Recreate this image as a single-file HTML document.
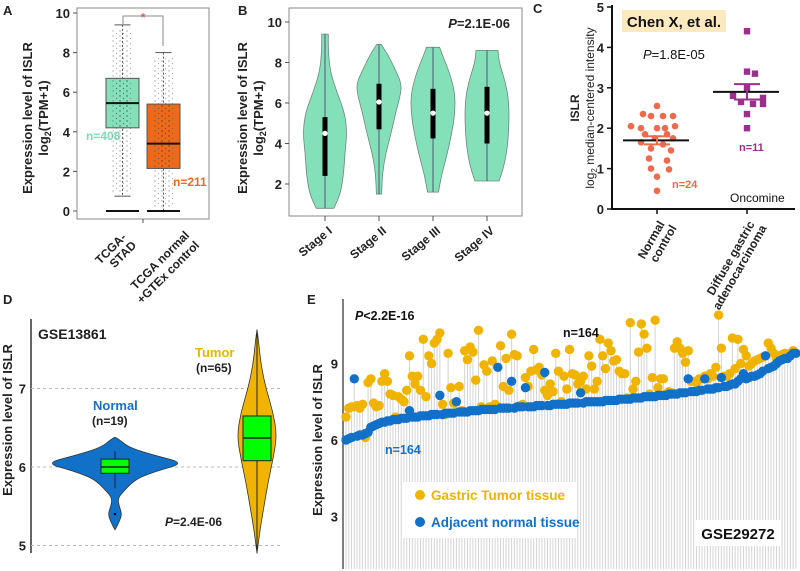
<!DOCTYPE html>
<html><head><meta charset="utf-8">
<style>
html,body{margin:0;padding:0;background:#fff;}
svg{display:block;font-family:"Liberation Sans",Arial,sans-serif;}
.t{font-weight:bold;fill:#222;}
</style></head>
<body>
<svg id="fig" width="800" height="571" viewBox="0 0 800 571">
<defs>
<pattern id="jit" width="7" height="5" patternUnits="userSpaceOnUse"><circle cx="1" cy="1" r="0.7" fill="#333"/><circle cx="4.5" cy="3.5" r="0.6" fill="#444"/></pattern>
</defs>
<text class="t" x="3" y="15" font-size="13">A</text>
<text class="t" x="238" y="15" font-size="13">B</text>
<text class="t" x="533" y="13" font-size="13">C</text>
<text class="t" x="3" y="304" font-size="13">D</text>
<text class="t" x="307" y="304" font-size="13">E</text>

<g id="pa">
<rect x="77" y="8" width="132" height="211" fill="none" stroke="#888"/>
<g class="t" font-size="13" text-anchor="middle">
<text transform="translate(32,118) rotate(-90)">Expression level of ISLR</text>
<text transform="translate(48,118) rotate(-90)">log<tspan font-size="9" dy="3">2</tspan><tspan dy="-3">(TPM+1)</tspan></text>
</g>
<text x="143" y="22" fill="#e53030" font-size="13" text-anchor="middle">*</text>
<path d="M123,24 V16 H163 V46" fill="none" stroke="#888"/>
<text x="86" y="140" font-size="12" font-weight="bold" fill="#7fdcb4">n=408</text>
<text x="173" y="186" font-size="12" font-weight="bold" fill="#ee6a1a">n=211</text>
<g class="t" font-size="12" text-anchor="end">
<text transform="translate(127,238) rotate(-45)">TCGA-</text>
<text transform="translate(137,246) rotate(-45)">STAD</text>
<text transform="translate(190,236) rotate(-45)">TCGA normal</text>
<text transform="translate(200,246) rotate(-45)">+GTEx control</text>
</g>
</g>

<g id="pb">
<rect x="289" y="8" width="233" height="208" fill="none" stroke="#888"/>
<g class="t" font-size="13" text-anchor="middle">
<text transform="translate(247,118) rotate(-90)">Expression level of ISLR</text>
<text transform="translate(263,118) rotate(-90)">log<tspan font-size="9" dy="3">2</tspan><tspan dy="-3">(TPM+1)</tspan></text>
</g>
<text x="510" y="28" font-size="13" font-weight="bold" fill="#222" text-anchor="end"><tspan font-style="italic">P</tspan>=2.1E-06</text>
</g>

<g id="pc">
<rect x="622" y="10" width="104" height="22" fill="#fde9c0"/>
<text x="674" y="27" font-size="15" font-weight="bold" fill="#111" text-anchor="middle">Chen X, et al.</text>
<text x="643" y="59" font-size="13" fill="#111"><tspan font-style="italic">P</tspan>=1.8E-05</text>
<line x1="612" y1="5" x2="612" y2="210" stroke="#111" stroke-width="2"/>
<line x1="611" y1="209" x2="795" y2="209" stroke="#111" stroke-width="2"/>
<g class="t" font-size="12" text-anchor="middle">
<text transform="translate(579,108) rotate(-90)">ISLR</text>
<text transform="translate(594,108) rotate(-90)" font-weight="normal">log<tspan font-size="8" dy="3">2</tspan><tspan dy="-3"> median-centered intensity</tspan></text>
</g>
<text x="672" y="188" font-size="11" font-weight="bold" fill="#ee6a4f">n=24</text>
<text x="739" y="151" font-size="11" font-weight="bold" fill="#9b2f8e">n=11</text>
<text x="730" y="202" font-size="12" fill="#111">Oncomine</text>
<g class="t" font-size="12" text-anchor="end">
<text transform="translate(665,224) rotate(-60)">Normal</text>
<text transform="translate(677,228) rotate(-60)">control</text>
<text transform="translate(755,224) rotate(-60)">Diffuse gastric</text>
<text transform="translate(767,228) rotate(-60)">adenocarcinoma</text>
</g>
</g>

<g id="pd">
<line x1="31" y1="319" x2="31" y2="553" stroke="#333" stroke-width="1.5"/>
<text class="t" font-size="13" text-anchor="middle" transform="translate(12,420) rotate(-90)">Expression level of ISLR</text>
<text class="t" x="38" y="339" font-size="14">GSE13861</text>
<text x="195" y="357" font-size="13" font-weight="bold" fill="#f0b400">Tumor</text>
<text x="196" y="372" font-size="12" font-weight="bold" fill="#222">(n=65)</text>
<text x="93" y="410" font-size="13" font-weight="bold" fill="#1a6fc4">Normal</text>
<text x="92" y="425" font-size="12" font-weight="bold" fill="#222">(n=19)</text>
<text x="165" y="526" font-size="12" font-weight="bold" fill="#222"><tspan font-style="italic">P</tspan>=2.4E-06</text>
</g>

<g id="pe">
<line x1="343" y1="299" x2="343" y2="569" stroke="#555" stroke-width="1.5"/>
<text class="t" font-size="13" text-anchor="middle" transform="translate(322,440) rotate(-90)">Expression level of ISLR</text>
</g>
</svg>
<script>
// ---------- Panel A data ----------
const aGroups = ["TCGA-STAD", "TCGA normal +GTEx control"];
const aQ1 = [4.2, 2.15];
const aMedian = [5.45, 3.4];
const aQ3 = [6.7, 5.4];
const aWhiskLow = [0.75, 0.0];
const aWhiskHigh = [9.4, 8.0];
const aTicks = [0, 2, 4, 6, 8, 10];
// ---------- Panel B data ----------
const bStages = ["Stage I", "Stage II", "Stage III", "Stage IV"];
const bMedian = [4.5, 6.05, 5.5, 5.5];
const bQ1 = [2.4, 4.7, 4.25, 4.0];
const bQ3 = [5.3, 6.95, 6.7, 6.8];
const bDensVals = [
  [0.8, 1.5, 2.5, 3.5, 4.5, 5.5, 6.5, 7.5, 8.5, 9.4],
  [1.5, 2.5, 3.5, 4.5, 5.5, 6.5, 7.0, 7.5, 8.3, 8.9],
  [1.6, 2.5, 3.5, 4.5, 5.5, 6.5, 7.5, 8.3, 8.75],
  [2.15, 3.0, 4.0, 5.0, 6.0, 7.0, 8.0, 8.6]
];
const bDensWidth = [
  [0.4, 0.7, 0.85, 0.9, 1.0, 0.9, 0.55, 0.25, 0.15, 0.15],
  [0.12, 0.15, 0.3, 0.55, 0.75, 1.0, 1.0, 0.8, 0.45, 0.1],
  [0.25, 0.4, 0.65, 0.85, 1.0, 1.0, 0.75, 0.45, 0.3],
  [0.55, 0.8, 0.95, 1.0, 1.0, 0.85, 0.55, 0.5]
];
const bTicks = [2, 4, 6, 8, 10];
// ---------- Panel C data ----------
const cGroups = ["Normal control", "Diffuse gastric adenocarcinoma"];
const cNormal = [2.55, 2.35, 2.3, 2.3, 2.3, 2.05, 2.0, 2.0, 2.05, 1.85, 1.85, 1.75, 1.75, 1.65, 1.6, 1.5, 1.45, 1.25, 1.2, 1.0, 0.98, 0.8, 0.45, 2.0];
const cNormalJitter = [0, -14, -6, 6, 16, -26, -16, 8, 18, -12, 10, -2, 16, -16, 6, -6, 14, -8, 10, -6, 12, 0, 0, 0];
const cDiffuse = [4.4, 3.4, 3.35, 3.0, 2.8, 2.75, 2.65, 2.6, 2.6, 2.35, 2.0];
const cDiffuseJitter = [0, 0, 8, 0, -14, 16, -6, 6, 16, 0, 0];
const cMean = [1.7, 2.9];
const cSem = [0.1, 0.19];
const cTicks = [0, 1, 2, 3, 4, 5];
// ---------- Panel D data ----------
const dGroups = ["Normal", "Tumor"];
const dDensVals = [
  [5.2, 5.3, 5.4, 5.5, 5.6, 5.7, 5.85, 5.95, 6.05, 6.15, 6.25, 6.35, 6.38],
  [4.9, 5.2, 5.5, 5.8, 6.1, 6.4, 6.7, 7.0, 7.3, 7.6, 7.75]
];
const dDensWidth = [
  [0, 0.06, 0.1, 0.06, 0.04, 0.13, 0.3, 0.6, 1.0, 0.55, 0.2, 0.06, 0],
  [0, 0.15, 0.35, 0.55, 0.8, 1.0, 0.8, 0.45, 0.2, 0.08, 0]
];
const dQ1 = [5.92, 6.08];
const dMedian = [6.0, 6.37];
const dQ3 = [6.1, 6.65];
const dWhiskLow = [5.73, 4.95];
const dWhiskHigh = [6.2, 7.7];
const dTicks = [5, 6, 7];
// ---------- Panel E data ----------
const eNormal = [6.0,6.05,6.1,8.4,6.15,6.2,6.2,6.25,6.3,6.5,
6.55,6.6,6.65,6.7,6.7,6.75,6.75,6.8,6.8,6.8,
6.85,6.85,6.85,7.15,6.9,6.9,6.9,6.95,6.95,6.95,
6.95,7.0,7.0,7.0,7.75,7.0,7.05,7.05,7.05,7.05,
7.5,7.1,7.1,7.1,7.1,7.15,7.15,7.15,7.15,7.2,
7.2,7.2,7.2,7.2,7.2,8.85,7.25,7.25,7.25,7.25,
8.3,7.25,7.3,7.3,7.3,8.05,7.3,7.3,7.3,7.35,
7.35,7.35,8.65,7.35,7.35,7.4,7.4,7.4,7.4,7.4,
7.4,7.45,7.45,7.45,7.45,7.85,7.45,7.5,7.5,7.5,
7.5,7.5,7.5,7.5,7.55,7.55,7.55,7.55,7.55,7.6,
7.6,7.6,7.6,7.6,7.65,7.65,7.65,7.65,7.7,7.7,
7.7,7.7,7.7,7.75,7.75,7.75,7.75,7.8,7.8,7.8,
7.8,7.85,7.85,7.85,8.4,7.9,7.9,7.9,7.95,7.95,
8.4,8.0,8.0,8.0,8.05,8.05,8.45,8.1,8.1,8.15,
8.2,8.2,8.3,8.4,8.6,8.4,8.45,8.5,8.5,8.55,
8.6,8.7,9.3,8.8,8.85,8.9,9.0,9.1,9.15,9.2,
9.2,9.3,9.4,9.4];
const eTumor = [6.9,7.25,7.3,7.3,7.35,7.25,7.4,6.1,8.25,8.4,
7.45,7.3,7.35,8.3,8.6,8.3,7.8,7.75,6.9,7.7,
7.6,7.5,7.95,9.3,8.5,8.2,8.5,7.95,9.95,7.7,
9.3,9.0,9.8,9.95,10.2,7.4,7.0,9.4,8.05,7.45,
7.1,8.1,7.15,9.5,9.15,9.65,9.45,8.35,10.3,7.3,
8.95,8.7,7.3,9.1,7.4,7.3,9.7,8.1,9.2,7.95,
10.15,9.35,9.3,7.35,7.4,8.45,8.1,8.7,9.55,8.75,
8.85,8.55,7.95,7.75,8.2,7.9,9.4,8.7,7.5,8.5,
8.0,9.55,8.6,8.55,8.2,8.3,8.5,8.0,9.3,8.9,
8.0,8.3,9.95,9.3,8.8,9.8,9.5,9.1,9.15,8.7,
8.6,8.6,7.65,10.6,8.0,8.3,9.45,10.55,10.15,9.6,
7.8,8.45,10.7,8.05,8.4,8.4,7.8,7.9,7.85,9.6,
9.85,9.6,9.4,9.05,9.5,8.3,8.3,8.25,8.4,8.4,
8.5,8.4,8.6,8.5,8.85,10.9,9.6,8.5,8.5,8.6,
10.0,8.8,9.95,9.0,9.55,9.3,8.9,9.0,9.1,9.15,
9.2,9.25,9.3,9.8,9.6,9.4,9.2,9.3,9.35,9.4,
9.3,9.4,9.5,9.4];
const eTicks = [3, 6, 9];
const eLegend = ["Gastric Tumor tissue", "Adjacent normal tissue"];

// ---------- helpers ----------
const NS = "http://www.w3.org/2000/svg";
function mk(parent, tag, attrs) {
  const e = document.createElementNS(NS, tag);
  for (const k in attrs) e.setAttribute(k, attrs[k]);
  parent.appendChild(e);
  return e;
}
function smooth(pts) {
  let d = "";
  for (let i = 0; i < pts.length - 1; i++) {
    const mx = (pts[i][0] + pts[i + 1][0]) / 2, my = (pts[i][1] + pts[i + 1][1]) / 2;
    if (i === 0) d += " L" + pts[0][0].toFixed(1) + "," + pts[0][1].toFixed(1) + " L" + mx.toFixed(1) + "," + my.toFixed(1);
    else d += " Q" + pts[i][0].toFixed(1) + "," + pts[i][1].toFixed(1) + " " + mx.toFixed(1) + "," + my.toFixed(1);
  }
  const l = pts[pts.length - 1];
  d += " L" + l[0].toFixed(1) + "," + l[1].toFixed(1);
  return d;
}
function violinPath(cx, vals, widths, maxW, yf) {
  const r = [], l = [];
  for (let i = 0; i < vals.length; i++) {
    r.push([cx + widths[i] * maxW, yf(vals[i])]);
    l.push([cx - widths[i] * maxW, yf(vals[i])]);
  }
  l.reverse();
  return "M" + cx + "," + yf(vals[0]).toFixed(1) + smooth(r) + smooth(l) + " Z";
}
const pa = document.getElementById("pa"), pb = document.getElementById("pb"),
      pc = document.getElementById("pc"), pd = document.getElementById("pd"), pe = document.getElementById("pe");

// ---------- Panel A ----------
const ayA = v => 211 - 19.8 * v;
const axA = i => [122.5, 163.5][i];
const aFill = ["#84e0b9", "#ee6a1a"];
aTicks.forEach(t => {
  const tk = mk(pa, "line", {x1: 73, x2: 77, y1: ayA(t), y2: ayA(t), stroke: "#555"});
  
  
  const tl = mk(pa, "text", {x: 70, y: ayA(t) + 5, "text-anchor": "end", "font-size": 13, "class": "t"});
  tl.textContent = t;
  
  
});
const tkx = mk(pa, "line", {x1: 143, x2: 143, y1: 219, y2: 223, stroke: "#555"});


aGroups.forEach((g, i) => {
  const cx = axA(i);
  const wl = mk(pa, "line", {x1: cx, x2: cx, y1: ayA(aWhiskHigh[i]), y2: ayA(aWhiskLow[i]), stroke: "#555", "stroke-dasharray": "2,2"});
  
  
  [aWhiskHigh[i], aWhiskLow[i]].forEach(v => {
    const cap = mk(pa, "line", {x1: cx - 8, x2: cx + 8, y1: ayA(v), y2: ayA(v), stroke: "#555"});
    
    
  });
  const bx = mk(pa, "rect", {x: cx - 16.5, y: ayA(aQ3[i]), width: 33, height: ayA(aQ1[i]) - ayA(aQ3[i]), fill: aFill[i], stroke: "#555"});
  
  
  const jt = mk(pa, "rect", {x: cx - 10, y: ayA(aWhiskHigh[i]) + 4, width: 20, height: ayA(aWhiskLow[i]) - ayA(aWhiskHigh[i]) - 8, fill: "url(#jit)", opacity: 0.45});
  
  
  const jt2 = mk(pa, "rect", {x: cx - 7, y: ayA(aQ3[i]), width: 14, height: ayA(aQ1[i]) - ayA(aQ3[i]), fill: "url(#jit)", opacity: 0.5});
  
  
  const md = mk(pa, "line", {x1: cx - 16.5, x2: cx + 16.5, y1: ayA(aMedian[i]), y2: ayA(aMedian[i]), stroke: "#111", "stroke-width": 2});
  
  
  const zl = mk(pa, "line", {x1: cx - 16.5, x2: cx + 16.5, y1: ayA(0), y2: ayA(0), stroke: "#111", "stroke-width": 2});
  
  
});

// ---------- Panel B ----------
const ayB = v => 22 + (10 - v) * 20.25;
const axB = i => 325 + i * 54;
bTicks.forEach(t => {
  const tk = mk(pb, "line", {x1: 285, x2: 289, y1: ayB(t), y2: ayB(t), stroke: "#555"});
  
  
  const tl = mk(pb, "text", {x: 282, y: ayB(t) + 5, "text-anchor": "end", "font-size": 13, "class": "t"});
  tl.textContent = t;
  
  
});
bStages.forEach((s, i) => {
  const cx = axB(i);
  const v = mk(pb, "path", {d: violinPath(cx, bDensVals[i], bDensWidth[i], 22, ayB), fill: "#84e0b9", stroke: "#6a8a7c", "stroke-width": 0.8, "stroke-linejoin": "round"});
  
  
  const ln = mk(pb, "line", {x1: cx, x2: cx, y1: ayB(bDensVals[i][bDensVals[i].length - 1]), y2: ayB(bDensVals[i][0]), stroke: "#557"});
  
  
  const b = mk(pb, "rect", {x: cx - 2.5, y: ayB(bQ3[i]), width: 5, height: ayB(bQ1[i]) - ayB(bQ3[i]), fill: "#000"});
  
  
  const m = mk(pb, "circle", {cx: cx, cy: ayB(bMedian[i]), r: 2.6, fill: "#fff"});
  
  
  const tk = mk(pb, "line", {x1: cx, x2: cx, y1: 216, y2: 221, stroke: "#555"});
  
  
  const tl = mk(pb, "text", {transform: "translate(" + (cx + 8) + ",232) rotate(-40)", "text-anchor": "end", "font-size": 12, "class": "t"});
  tl.textContent = s;
  
  
});

// ---------- Panel C ----------
const ayC = v => 209 - 40.4 * v;
const axC = i => [657, 747][i];
cTicks.forEach(t => {
  const tk = mk(pc, "line", {x1: 607, x2: 612, y1: ayC(t), y2: ayC(t), stroke: "#111", "stroke-width": 1.5});
  
  
  const tl = mk(pc, "text", {x: 604, y: ayC(t) + 5, "text-anchor": "end", "font-size": 13, "class": "t"});
  tl.textContent = t;
  
  
});
cGroups.forEach((g, i) => {
  const tk = mk(pc, "line", {x1: axC(i), x2: axC(i), y1: 209, y2: 214, stroke: "#111", "stroke-width": 1.5});
  
  
});
cNormal.forEach((v, i) => {
  const c = mk(pc, "circle", {cx: axC(0) + cNormalJitter[i], cy: ayC(v), r: 3.3, fill: "#ee6a4f"});
  
  
});
cDiffuse.forEach((v, i) => {
  const s = mk(pc, "rect", {x: axC(1) + cDiffuseJitter[i] - 3.2, y: ayC(v) - 3.2, width: 6.4, height: 6.4, fill: "#9b2f8e"});
  
  
});
cMean.forEach((m, i) => {
  const cx = axC(i);
  const ml = mk(pc, "line", {x1: cx - 34, x2: cx + 32, y1: ayC(m), y2: ayC(m), stroke: "#111", "stroke-width": 2});
  
  
  const col = i === 0 ? "#ee6a4f" : "#9b2f8e";
  [m + cSem[i], m - cSem[i]].forEach(v => {
    const e = mk(pc, "line", {x1: cx - 13, x2: cx + 13, y1: ayC(v), y2: ayC(v), stroke: col, "stroke-width": 2});
    
    
  });
  const ev = mk(pc, "line", {x1: cx, x2: cx, y1: ayC(m + cSem[i]), y2: ayC(m - cSem[i]), stroke: col, "stroke-width": 2});
  
  
});

// ---------- Panel D ----------
const ayD = v => 467 - 78.5 * (v - 6);
const axD = i => [115, 257][i];
dTicks.forEach(t => {
  const g = mk(pd, "line", {x1: 31, x2: 283, y1: ayD(t), y2: ayD(t), stroke: "#bbb", "stroke-dasharray": "3,3"});
  
  
  const tl = mk(pd, "text", {x: 26, y: ayD(t) + 5, "text-anchor": "end", "font-size": 13, "class": "t"});
  tl.textContent = t;
  
  
});
const dFill = ["#1170c8", "#f0b400"];
const dMaxW = [70, 20];
dGroups.forEach((g, i) => {
  const cx = axD(i);
  const v = mk(pd, "path", {d: violinPath(cx, dDensVals[i], dDensWidth[i], dMaxW[i], ayD), fill: dFill[i], stroke: "#333", "stroke-width": 0.8, "stroke-linejoin": "round"});
  
  
  const wl = mk(pd, "line", {x1: cx, x2: cx, y1: ayD(dWhiskHigh[i]), y2: ayD(dWhiskLow[i]), stroke: "#222"});
  
  
  const b = mk(pd, "rect", {x: cx - 14, y: ayD(dQ3[i]), width: 28, height: ayD(dQ1[i]) - ayD(dQ3[i]), fill: "#00ff00", stroke: "#222"});
  
  
  const m = mk(pd, "line", {x1: cx - 14, x2: cx + 14, y1: ayD(dMedian[i]), y2: ayD(dMedian[i]), stroke: "#222", "stroke-width": 1.5});
  
  
});
const outl = mk(pd, "circle", {cx: axD(0), cy: ayD(5.4), r: 1.2, fill: "#000"});



// ---------- Panel E ----------
const ayE = v => 440 - 25.5 * (v - 6);
const axE = i => 346 + i * 2.76;
eTicks.forEach(t => {
  const tl = mk(pe, "text", {x: 338, y: ayE(t) + 5, "text-anchor": "end", "font-size": 13, "class": "t"});
  tl.textContent = t;
  
  
});
eNormal.forEach((v, i) => {
  const top = Math.max(v, eTumor[i]);
  const s = mk(pe, "line", {x1: axE(i), x2: axE(i), y1: 569, y2: ayE(top), stroke: "#d4d4d4", "stroke-width": 1});
  
  
});
const lg = mk(pe, "rect", {x: 403, y: 482, width: 174, height: 56, fill: "#fff"});


const gb = mk(pe, "rect", {x: 696, y: 520, width: 84, height: 26, fill: "#fff"});


eTumor.forEach((v, i) => {
  const c = mk(pe, "circle", {cx: axE(i), cy: ayE(v), r: 4.7, fill: "#f0b400"});
  
  
});
eNormal.forEach((v, i) => {
  const c = mk(pe, "circle", {cx: axE(i), cy: ayE(v), r: 4.7, fill: "#1170c8"});
  
  
});
const lColors = ["#f0b400", "#1170c8"];
eLegend.forEach((txt, i) => {
  const y = 495 + i * 27;
  const d = mk(pe, "circle", {cx: 420, cy: y, r: 5, fill: lColors[i]});
  
  
  const t = mk(pe, "text", {x: 431, y: y + 5, "font-size": 13.5, "font-weight": "bold", fill: lColors[i]});
  t.textContent = txt;
  
  
});
const gt = mk(pe, "text", {x: 738, y: 539, "text-anchor": "middle", "font-size": 15, "font-weight": "bold", fill: "#111"});
gt.textContent = "GSE29272";


const pt = mk(pe, "text", {x: 355, y: 320, "font-size": 12.5, "font-weight": "bold", fill: "#111"});
pt.innerHTML = '<tspan font-style="italic">P</tspan>&lt;2.2E-16';


const n1 = mk(pe, "text", {x: 563, y: 337, "font-size": 12.5, "font-weight": "bold", fill: "#111"});
n1.textContent = "n=164";


const n2 = mk(pe, "text", {x: 385, y: 454, "font-size": 12.5, "font-weight": "bold", fill: "#1170c8"});
n2.textContent = "n=164";


</script>
</body></html>
